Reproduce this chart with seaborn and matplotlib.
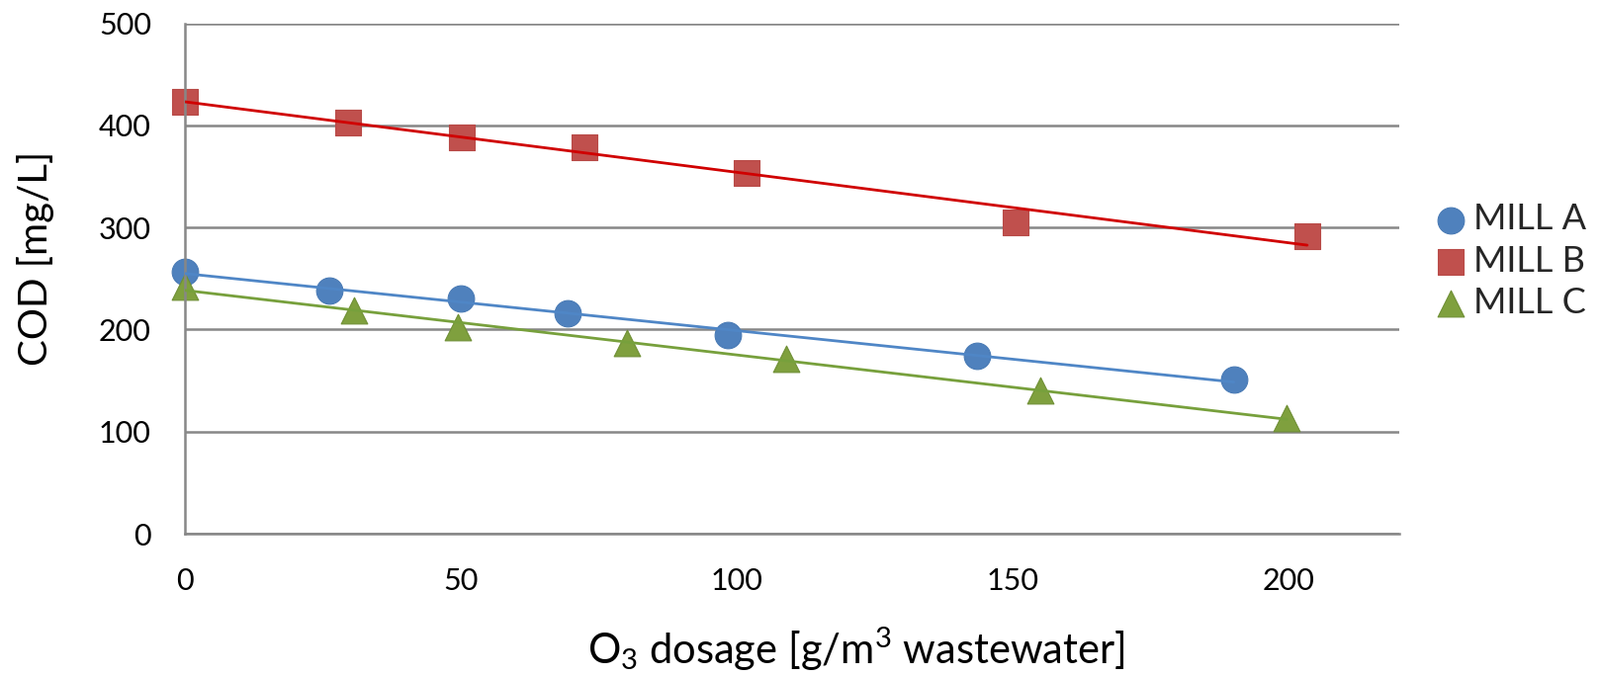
import numpy as np
import pandas as pd
import matplotlib
matplotlib.use("Agg")
import matplotlib.pyplot as plt
import seaborn as sns

# ---- data ----
mills = ["MILL A", "MILL B", "MILL C"]
dose_a = [0, 26.2, 49.9, 69.3, 98.4, 143.5, 190.0]
cod_a = [257, 238, 230, 216, 195, 174, 151]
dose_b = [0, 29.5, 50.2, 72.4, 101.8, 150.5, 203.3]
cod_b = [423, 403, 388, 379, 353, 305, 291]
dose_c = [0, 30.7, 49.5, 80.0, 109.0, 155.0, 199.6]
cod_c = [242, 219, 202, 187, 171, 140, 113]
x_ticks = [0, 50, 100, 150, 200]
y_ticks = [0, 100, 200, 300, 400, 500]

df = pd.concat([
    pd.DataFrame({"dose": dose_a, "cod": cod_a, "mill": mills[0]}),
    pd.DataFrame({"dose": dose_b, "cod": cod_b, "mill": mills[1]}),
    pd.DataFrame({"dose": dose_c, "cod": cod_c, "mill": mills[2]}),
], ignore_index=True)

sns.set_theme(style="white")
plt.rcParams["font.family"] = ["Lato", "DejaVu Sans"]
plt.rcParams["mathtext.default"] = "regular"

face = {"MILL A": "#4F81BD", "MILL B": "#C0504D", "MILL C": "#7FA03E"}
edge = {"MILL A": "#4A7BB5", "MILL B": "#B84A47", "MILL C": "#6F8F35"}
linec = {"MILL A": "#4F86C6", "MILL B": "#D00000", "MILL C": "#77A03C"}
mark = {"MILL A": "o", "MILL B": "s", "MILL C": "^"}

fig = plt.figure(figsize=(16.18, 6.84), dpi=100)
ax = fig.add_axes([0.1156, 0.2105, 0.759, 0.755])

for m in mills:
    sub = df[df["mill"] == m]
    sns.scatterplot(data=sub, x="dose", y="cod", marker=mark[m], s=370,
                    color=face[m], edgecolor=edge[m], linewidth=0.8,
                    label=m, ax=ax, zorder=2, clip_on=False)
    sns.regplot(data=sub, x="dose", y="cod", scatter=False, ci=None,
                truncate=True, ax=ax,
                line_kws=dict(color=linec[m], lw=2.0, zorder=3, label="_nolegend_"))

ax.set_xlim(0, 220)
ax.set_ylim(0, 500)
ax.set_xticks(x_ticks)
ax.set_yticks(y_ticks)
ax.yaxis.grid(True, color="#878787", lw=1.8)
ax.xaxis.grid(False)
ax.set_axisbelow(True)
for s in ["top", "right"]:
    ax.spines[s].set_visible(False)
for s in ["left", "bottom"]:
    ax.spines[s].set_color("#878787")
    ax.spines[s].set_linewidth(1.8)
ax.tick_params(axis="both", direction="out", length=8.6, width=1.8,
               color="#878787", labelsize=22, labelcolor="black", pad=16)

ax.set_xlabel("O$_3$ dosage [g/m$^3$ wastewater]", fontsize=30, color="black")
ax.set_ylabel("COD [mg/L]", fontsize=29, color="black")
ax.xaxis.set_label_coords(0.553, -0.18)
ax.yaxis.set_label_coords(-0.1075, 0.54)

ax.legend(loc="center left", bbox_to_anchor=(0.893, 0.614),
          bbox_transform=fig.transFigure, frameon=False, fontsize=26,
          handletextpad=0.05, labelspacing=0.25, handlelength=1.2,
          borderpad=0, borderaxespad=0)

fig.savefig("out.png", dpi=100)
